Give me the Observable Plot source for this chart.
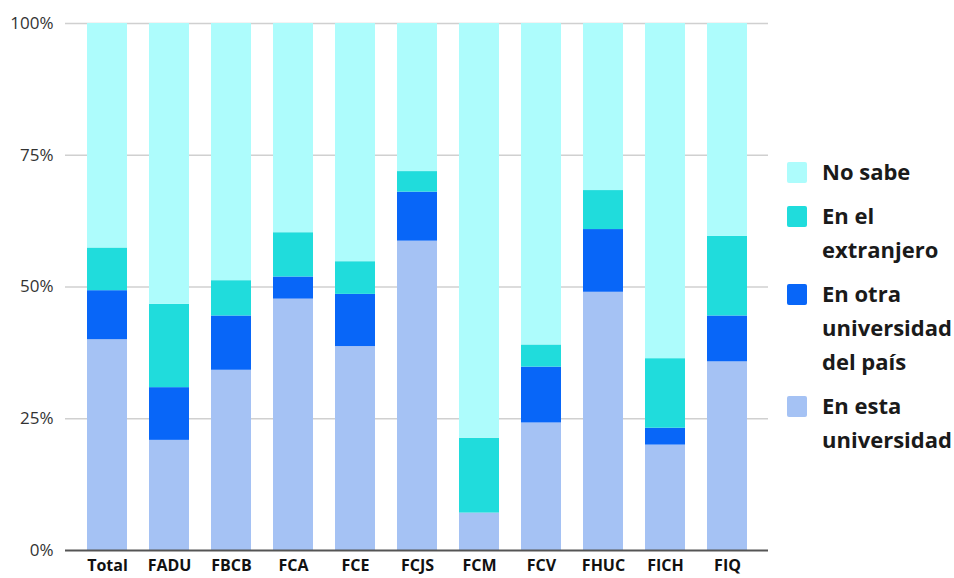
<!DOCTYPE html>
<html>
<head>
<meta charset="utf-8">
<script src="https://cdn.jsdelivr.net/npm/d3@7"></script>
<script src="https://cdn.jsdelivr.net/npm/@observablehq/plot@0.6"></script>
<style>
  html, body { margin: 0; padding: 0; background: #fff; }
  #wrap { position: relative; width: 954px; height: 578px; }
  #legend { position: absolute; left: 787px; top: 154px; font-family: "Open Sans", sans-serif; font-weight: bold; font-size: 22px; color: #1a1a1a; }
  .item { display: flex; align-items: flex-start; margin-bottom: 10px; }
  .sw { width: 20px; height: 21px; border-radius: 2px; margin-top: 8px; margin-right: 15px; flex: none; }
  .lab { line-height: 34px; white-space: nowrap; }
</style>
</head>
<body>
<div id="wrap"><div id="chart"></div><div id="legend"></div></div>
<script>
const categories = ["Total","FADU","FBCB","FCA","FCE","FCJS","FCM","FCV","FHUC","FICH","FIQ"];
const seriesNames = ["En esta universidad","En otra universidad del país","En el extranjero","No sabe"];
const enEsta     = [40.0, 20.9, 34.2, 47.7, 38.7, 58.7,  7.1, 24.2, 49.0, 20.0, 35.8];
const enOtra     = [ 9.3, 10.0, 10.3,  4.2,  9.9,  9.3,  0.0, 10.6, 11.9,  3.2,  8.7];
const extranjero = [ 8.1, 15.8,  6.7,  8.4,  6.2,  3.9, 14.2,  4.2,  7.4, 13.2, 15.1];
const noSabe     = [42.6, 53.3, 48.8, 39.7, 45.2, 28.1, 78.7, 61.0, 31.7, 63.6, 40.4];
const yTicks = [0, 25, 50, 75, 100];
const colors = ["#a5c2f4", "#0866f8", "#20dcdc", "#adfcfc"];
const legendLabels = [["No sabe"], ["En el", "extranjero"], ["En otra", "universidad", "del país"], ["En esta", "universidad"]];

const seriesValues = [enEsta, enOtra, extranjero, noSabe];
const rows = [];
categories.forEach((c, i) => {
  seriesNames.forEach((s, j) => rows.push({cat: c, serie: s, value: seriesValues[j][i]}));
});

const chart = Plot.plot({
  width: 954,
  height: 578,
  marginLeft: 65,
  marginRight: 186,
  marginTop: 23,
  marginBottom: 28,
  style: {fontFamily: "'Open Sans', sans-serif", background: "#fff"},
  x: {domain: categories, paddingInner: 0.355, paddingOuter: 0.34, label: null},
  y: {domain: [0, 100], label: null},
  color: {domain: seriesNames, range: colors},
  marks: [
    Plot.ruleY(yTicks.filter(d => d > 0), {stroke: "#d0d0d0", strokeWidth: 1.5}),
    Plot.barY(rows, {x: "cat", y: "value", fill: "serie", order: seriesNames}),
    Plot.ruleY([0], {stroke: "#555", strokeWidth: 2}),
    Plot.axisY({ticks: yTicks, tickFormat: d => d + "%", tickSize: 0, tickPadding: 12, fontSize: 17, fill: "#333", label: null}),
    Plot.axisX({tickSize: 0, tickPadding: 9, fontSize: 16, fontWeight: "bold", fill: "#111", label: null})
  ]
});
document.getElementById("chart").appendChild(chart);

const legend = document.getElementById("legend");
legendLabels.forEach((lines, k) => {
  const item = document.createElement("div");
  item.className = "item";
  const sw = document.createElement("div");
  sw.className = "sw";
  sw.style.background = colors[colors.length - 1 - k];
  const lab = document.createElement("div");
  lab.className = "lab";
  lines.forEach((t, i) => {
    if (i) lab.appendChild(document.createElement("br"));
    lab.appendChild(document.createTextNode(t));
  });
  item.appendChild(sw);
  item.appendChild(lab);
  legend.appendChild(item);
});
</script>
</body>
</html>
